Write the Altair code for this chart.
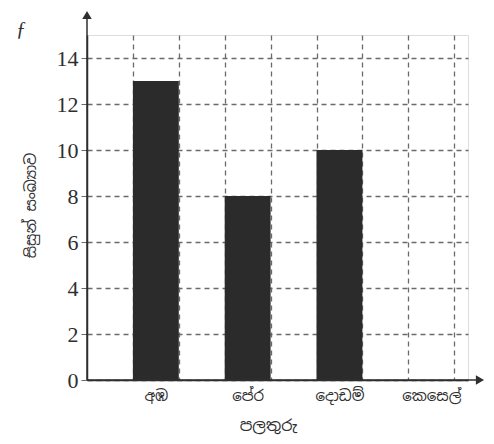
import altair as alt
import pandas as pd

# ---- data ----
fruits = ["අඹ", "පේර", "දොඩම්", "කෙසෙල්"]
students = [13, 8, 10, 0]
y_ticks = [0, 2, 4, 6, 8, 10, 12, 14]

x_title = "පලතුරු"
y_title = "සිසුන් සංඛ්‍යාව"

W, H = 381, 345
INK = "#2f2f2f"
GRID = "#6a6a6a"
SIN_FONT = "Noto Sans Sinhala, Noto Serif Sinhala, Noto Sans, sans-serif"

df = pd.DataFrame({"fruit": fruits, "students": students})
df["slot"] = range(len(fruits))

n_cols = 2 * len(fruits)
x_vals = list(range(1, n_cols + 1))

# label expression built from the category list: category i sits in column 2i+1
expr = "''"
for i, f in reversed(list(enumerate(fruits))):
    expr = f"datum.value == {2 * i + 1} ? '{f}' : ({expr})"

x_scale = alt.Scale(domain=[0, 8.3], nice=False, zero=False)
y_scale = alt.Scale(domain=[0, 15], nice=False)

bars = (
    alt.Chart(df)
    .transform_calculate(x0="2 * datum.slot + 1", x1="2 * datum.slot + 2", base="0")
    .mark_bar(color="#2b2b2b")
    .encode(
        x=alt.X(
            "x0:Q",
            scale=x_scale,
            axis=alt.Axis(
                values=x_vals,
                grid=True,
                gridDash=[5, 4],
                gridColor=GRID,
                gridWidth=1.3,
                labelExpr=expr,
                labelOffset=23,
                labelOverlap=False,
                labelFont=SIN_FONT,
                labelFontSize=15,
                labelColor=INK,
                labelPadding=8,
                tickSize=0,
                domainColor=INK,
                domainWidth=1.5,
                title=x_title,
                titleFont=SIN_FONT,
                titleFontSize=16,
                titleFontWeight="normal",
                titleColor=INK,
                titleX=181,
                titleY=45,
                titleBaseline="middle",
            ),
        ),
        x2="x1:Q",
        y=alt.Y(
            "students:Q",
            scale=y_scale,
            axis=alt.Axis(
                values=y_ticks,
                grid=True,
                gridDash=[5, 4],
                gridColor=GRID,
                gridWidth=1.3,
                labelFont="Liberation Serif",
                labelFontSize=22,
                labelColor=INK,
                labelPadding=3,
                tickSize=6,
                tickColor=GRID,
                domainColor=INK,
                domainWidth=1.5,
                title=y_title,
                titleFont=SIN_FONT,
                titleFontSize=15,
                titleFontWeight="normal",
                titleColor=INK,
                titleX=-57,
                titleY=170,
                titleAngle=-90,
                titleBaseline="middle",
            ),
        ),
        y2="base:Q",
    )
)

anchor = alt.Chart(pd.DataFrame({"a": [0]}))

y_arrow = anchor.mark_rule(color=INK, strokeWidth=1.5).encode(
    x=alt.value(0), y=alt.value(-18), y2=alt.value(H)
)
y_head = anchor.mark_point(shape="triangle-up", filled=True, size=90, color=INK, opacity=1).encode(
    x=alt.value(0), y=alt.value(-20)
)
x_arrow = anchor.mark_rule(color=INK, strokeWidth=1.5).encode(
    x=alt.value(0), x2=alt.value(W + 10), y=alt.value(H)
)
x_head = anchor.mark_point(shape="triangle-right", filled=True, size=90, color=INK, opacity=1).encode(
    x=alt.value(W + 12), y=alt.value(H)
)
corner = anchor.mark_text(
    text="ƒ", font="Liberation Serif", fontSize=20, fontStyle="italic", color=INK
).encode(x=alt.value(-66), y=alt.value(-5))

chart = (
    alt.layer(bars, y_arrow, y_head, x_arrow, x_head, corner)
    .properties(
        width=W,
        height=H,
        autosize=alt.AutoSizeParams(type="none"),
        padding={"left": 79, "top": 27, "right": 16, "bottom": 56},
    )
    .configure_view(stroke=None)
    .configure(background="white")
)

chart.save("out.html", embed_options={"renderer": "svg", "actions": False})
